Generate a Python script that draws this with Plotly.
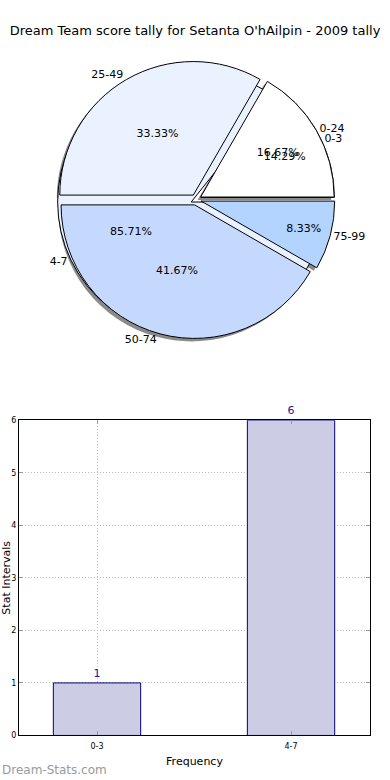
import plotly.graph_objects as go

# ---- data ----
title_text = "Dream Team score tally for Setanta O'hAilpin - 2009 tally"
pie1_labels = ["0-24", "25-49", "50-74", "75-99"]
pie1_values = [16.67, 33.33, 41.67, 8.33]
pie2_labels = ["0-3", "4-7"]
pie2_values = [1, 6]
bar_categories = ["0-3", "4-7"]
bar_values = [1, 6]

W, H = 390, 780
pie_colors = ["#ffffff", "#eaf1ff", "#c5d9ff", "#b3d4ff"]
PULL = 0.04
FONT = "DejaVu Sans"


def start_rotation(values):
    # Plotly (counterclockwise) puts the end of the first slice at `rotation`;
    # matplotlib starts the first slice at 3 o'clock going counterclockwise.
    return 90 - 360.0 * values[0] / sum(values)


# pie domain (pixel centre 195,198 ; radius ~135)
cx, cy, half = 196, 198, 140.5
dom_x = [(cx - half) / W, (cx + half) / W]
dom_y = [1 - (cy + half) / H, 1 - (cy - half) / H]
sh_dx, sh_dy = -3, 3
dom_x_sh = [(cx - half + sh_dx) / W, (cx + half + sh_dx) / W]
dom_y_sh = [1 - (cy + half + sh_dy) / H, 1 - (cy - half + sh_dy) / H]

common = dict(sort=False, direction="counterclockwise",
              hoverinfo="skip", showlegend=False,
              textfont=dict(family=FONT, size=11, color="black"),
              insidetextorientation="horizontal")
rot1 = start_rotation(pie1_values)
rot2 = start_rotation(pie2_values)

fig = go.Figure()

# shadow
fig.add_trace(go.Pie(labels=pie1_labels, values=pie1_values, pull=[PULL] * 4, rotation=rot1,
                     domain=dict(x=dom_x_sh, y=dom_y_sh),
                     marker=dict(colors=["#8a8a8a"] * 4, line=dict(width=0)),
                     textinfo="none", **common))
# second (hidden) pie fill, labels outside
fig.add_trace(go.Pie(labels=pie2_labels, values=pie2_values, pull=[PULL] * 2, rotation=rot2,
                     domain=dict(x=dom_x, y=dom_y),
                     marker=dict(colors=pie_colors[:2], line=dict(color="black", width=1)),
                     textposition="outside", texttemplate="%{label}", **common))
# main pie fill with percentages inside
fig.add_trace(go.Pie(labels=pie1_labels, values=pie1_values, pull=[PULL] * 4, rotation=rot1,
                     domain=dict(x=dom_x, y=dom_y),
                     marker=dict(colors=pie_colors, line=dict(color="black", width=1)),
                     textposition="inside", texttemplate="%{percent:.2%}", **common))
# main pie labels outside (transparent)
fig.add_trace(go.Pie(labels=pie1_labels, values=pie1_values, pull=[PULL] * 4, rotation=rot1,
                     domain=dict(x=dom_x, y=dom_y),
                     marker=dict(colors=["rgba(0,0,0,0)"] * 4, line=dict(width=0)),
                     textposition="outside", texttemplate="%{label}", **common))
# second pie percentages on top (transparent)
fig.add_trace(go.Pie(labels=pie2_labels, values=pie2_values, pull=[PULL] * 2, rotation=rot2,
                     domain=dict(x=dom_x, y=dom_y),
                     marker=dict(colors=["rgba(0,0,0,0)"] * 2, line=dict(width=0)),
                     textposition="inside", texttemplate="%{percent:.2%}", **common))

# bar chart
fig.add_trace(go.Bar(x=bar_categories, y=bar_values, width=0.45,
                     marker=dict(color="#ccccE5", line=dict(color="#000080", width=1)),
                     text=[str(v) for v in bar_values], textposition="outside",
                     textfont=dict(family=FONT, size=11, color="#1a1a8c"),
                     cliponaxis=False, hoverinfo="skip", showlegend=False))

axis_common = dict(showline=True, linecolor="black", linewidth=1, mirror="ticks",
                   ticks="inside", ticklen=4, tickcolor="#999999",
                   showgrid=True, gridcolor="#b8b8b8", griddash="1px,2px", gridwidth=1,
                   zeroline=False, tickfont=dict(family=FONT, size=8, color="black"))

fig.update_layout(
    width=W, height=H,
    margin=dict(l=0, r=0, t=0, b=0),
    paper_bgcolor="white", plot_bgcolor="white",
    font=dict(family=FONT, color="black"),
    title=dict(text=title_text, x=0.5, xanchor="center", y=1 - 30 / H, yanchor="middle",
               yref="container", font=dict(family=FONT, size=13, color="black")),
    xaxis=dict(domain=[19 / W, 370 / W], range=[-0.402, 1.407], anchor="y",
               ticklabelstandoff=3,
               title=dict(text="Frequency", font=dict(family=FONT, size=11), standoff=7),
               **axis_common),
    yaxis=dict(domain=[1 - 740 / H, 1 - 421 / H], range=[0, 6], dtick=1, anchor="x",
               title=dict(text="Stat Intervals", font=dict(family=FONT, size=11), standoff=0),
               **axis_common),
    annotations=[dict(text="Dream-Stats.com", xref="paper", yref="paper", x=0, y=1 - 775 / H,
                      xanchor="left", yanchor="middle", showarrow=False,
                      font=dict(family=FONT, size=12, color="#9a9a9a"))],
)

fig.write_html("out.html", config={"displayModeBar": False},
               post_script="document.body.style.margin='0';")
